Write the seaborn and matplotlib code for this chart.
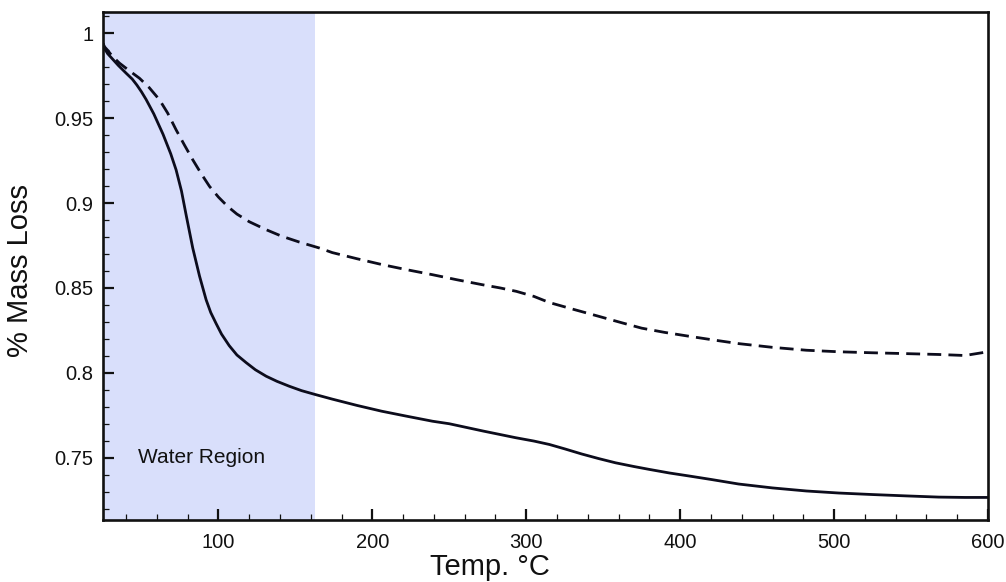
import numpy as np
import pandas as pd
import matplotlib
matplotlib.use("Agg")
import matplotlib.pyplot as plt
from matplotlib.ticker import MultipleLocator, FormatStrFormatter
import seaborn as sns

# Thermogravimetric curves: temperature (deg C) vs. remaining mass fraction
temp_solid = [25, 26, 28, 31, 35, 40, 44, 47, 50, 53, 58, 64, 69, 72.5, 76, 79,
              83.3, 87.7, 92, 95, 98.5, 102, 107, 112, 118, 124, 131, 138, 146, 154,
              163, 174, 190, 206, 222, 239, 250, 272, 293, 305, 315, 325, 336, 347,
              358, 370, 380, 393, 406, 420, 438, 460, 482, 503, 525, 547, 568, 585,
              600]
mass_solid = [0.994, 0.991, 0.988, 0.985, 0.981, 0.9765, 0.9730, 0.9695, 0.9655,
              0.961, 0.9525, 0.9405, 0.929, 0.9195, 0.9070, 0.8930, 0.8735, 0.8570,
              0.8430, 0.8355, 0.8290, 0.8228, 0.8160, 0.8105, 0.8060, 0.8018, 0.7980,
              0.7950, 0.7921, 0.7895, 0.7872, 0.7845, 0.7808, 0.7774, 0.7745, 0.7715,
              0.7700, 0.7657, 0.7618, 0.7598, 0.7578, 0.7552, 0.7522, 0.7495, 0.7470,
              0.7448, 0.7431, 0.7410, 0.7392, 0.7372, 0.7345, 0.7322, 0.7304, 0.7292,
              0.7283, 0.7275, 0.7268, 0.7266, 0.7266]

temp_dashed = [25, 26, 28, 31, 35.7, 42, 48.7, 55, 61.7, 67, 72.5, 78, 83.3, 89,
               94.2, 100, 106, 112, 120, 131, 141, 152.6, 165.6, 174, 190, 206.5,
               222, 239, 255, 271.4, 283, 293.5, 305, 315, 331, 347, 362, 375, 390,
               406, 422, 438, 460, 482, 503, 525, 547, 568, 585, 600]
mass_dashed = [0.994, 0.992, 0.990, 0.9865, 0.9824, 0.9780, 0.9735, 0.9680, 0.9608,
               0.9530, 0.9431, 0.9340, 0.9255, 0.9170, 0.9098, 0.9035, 0.8980, 0.8935,
               0.8890, 0.8843, 0.8805, 0.8770, 0.8735, 0.8708, 0.8672, 0.8637, 0.8608,
               0.8578, 0.8548, 0.8519, 0.8500, 0.8480, 0.8450, 0.8414, 0.8373, 0.8333,
               0.8295, 0.8263, 0.8238, 0.8215, 0.8193, 0.8172, 0.8150, 0.8133, 0.8124,
               0.8118, 0.8113, 0.8108, 0.8102, 0.8124]

water_region = (25, 163)
x_ticks = [100, 200, 300, 400, 500, 600]
y_ticks = [0.75, 0.8, 0.85, 0.9, 0.95, 1.0]

sns.set_theme(style="ticks")
plt.rcParams["font.family"] = ["Liberation Sans", "DejaVu Sans"]

df_solid = pd.DataFrame({"temp": temp_solid, "mass": mass_solid})
df_dashed = pd.DataFrame({"temp": temp_dashed, "mass": mass_dashed})

fig = plt.figure(figsize=(10.06, 5.82), dpi=100)
ax = fig.add_axes([0.1024, 0.1065, 0.8797, 0.8734])

ax.axvspan(*water_region, color="#d9dffb", lw=0, zorder=0)

line_color = "#0c0c1c"
sns.lineplot(data=df_solid, x="temp", y="mass", ax=ax, color=line_color,
             lw=2.0, sort=False, estimator=None)
sns.lineplot(data=df_dashed, x="temp", y="mass", ax=ax, color=line_color,
             lw=2.0, sort=False, estimator=None)
ax.lines[-1].set_dashes((5, 2.6))

ax.text(48, 0.75, "Water Region", ha="left", va="center", fontsize=15, color="#111111")

ax.set_xlim(25, 600)
ax.set_ylim(0.7133, 1.0127)
ax.set_xticks(x_ticks)
ax.set_yticks(y_ticks)
ax.xaxis.set_minor_locator(MultipleLocator(20))
ax.yaxis.set_minor_locator(MultipleLocator(0.01))
ax.yaxis.set_major_formatter(FormatStrFormatter("%g"))

ax.tick_params(axis="both", which="major", direction="in", length=8, width=1.6,
               labelsize=14.5, colors="#111111", pad=7)
ax.tick_params(axis="x", which="major", pad=9.5)
ax.tick_params(axis="both", which="minor", direction="in", length=4, width=0.9,
               colors="#111111")
ax.tick_params(top=False, right=False, which="both")

for side in ["left", "bottom", "top", "right"]:
    ax.spines[side].set_visible(True)
    ax.spines[side].set_linewidth(1.9)
    ax.spines[side].set_color("#111111")

ax.set_xlabel("Temp. °C", fontsize=21, color="#111111")
ax.set_ylabel("% Mass Loss", fontsize=21, color="#111111")
ax.xaxis.set_label_coords(0.437, -0.064)
ax.yaxis.set_label_coords(-0.078, 0.49)

fig.savefig("out.png", dpi=100, facecolor="white")
